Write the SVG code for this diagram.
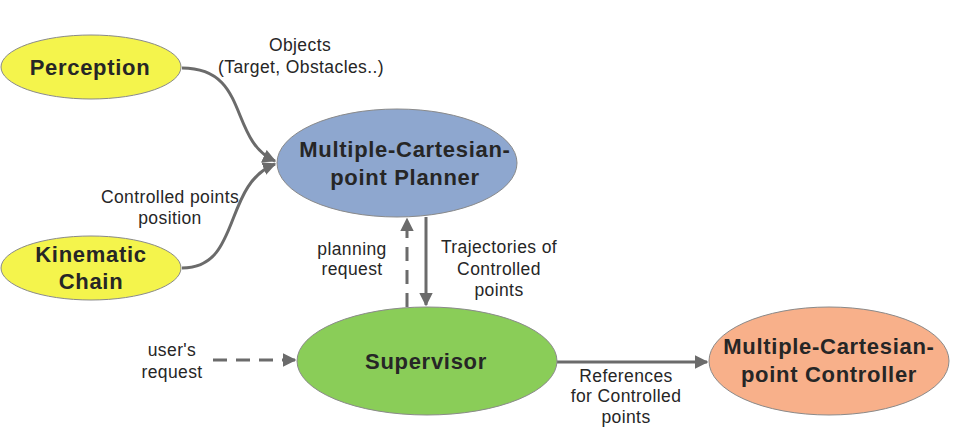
<svg xmlns="http://www.w3.org/2000/svg" width="953" height="440" viewBox="0 0 953 440">
<defs>
<marker id="ah" viewBox="0 0 10 10" refX="9" refY="5" markerWidth="4.5" markerHeight="4.5" orient="auto" markerUnits="strokeWidth">
<path d="M0,0 L10,5 L0,10 z" fill="#6b6b6b"/>
</marker>
<style>
.node{stroke:#8a8a8a;stroke-width:1}
.nl{font-family:"Liberation Sans",Arial,sans-serif;font-weight:bold;font-size:22px;letter-spacing:0.7px;fill:#262626;text-anchor:middle}
.el{font-family:"Liberation Sans",Arial,sans-serif;font-size:17.5px;letter-spacing:0.4px;fill:#262626;text-anchor:middle}
.c{fill:none;stroke:#6b6b6b;stroke-width:3}
.d{stroke-dasharray:14 9}
</style>
</defs>
<rect width="953" height="440" fill="#ffffff"/>
<g id="connectors">
<path class="c" d="M182,68 C250,68 228,140 275,161" marker-end="url(#ah)"/>
<path class="c" d="M182,268 C242,268 222,185 275,164" marker-end="url(#ah)"/>
<path class="c d" d="M407,307 L407,219" marker-end="url(#ah)"/>
<path class="c" d="M426,217 L426,305" marker-end="url(#ah)"/>
<path class="c d" d="M213,360 L295,360" marker-end="url(#ah)"/>
<path class="c" d="M557,362 L707,362" marker-end="url(#ah)"/>
<text class="el" x="300" y="51">Objects</text>
<text class="el" x="301" y="73">(Target, Obstacles..)</text>
<text class="el" x="170" y="203">Controlled points</text>
<text class="el" x="170" y="224">position</text>
<text class="el" x="352" y="255">planning</text>
<text class="el" x="352" y="275">request</text>
<text class="el" x="499" y="253">Trajectories of</text>
<text class="el" x="499" y="275">Controlled</text>
<text class="el" x="499" y="296">points</text>
<text class="el" x="172" y="356">user's</text>
<text class="el" x="172" y="378">request</text>
<text class="el" x="626" y="382">References</text>
<text class="el" x="626" y="402">for Controlled</text>
<text class="el" x="626" y="423">points</text>
</g>
<g id="perception">
<ellipse class="node" cx="91" cy="67" rx="90" ry="32" fill="#f4f44c"/>
<text class="nl" x="90" y="75">Perception</text>
</g>
<g id="kinematic">
<ellipse class="node" cx="91" cy="268" rx="90" ry="32" fill="#f4f44c"/>
<text class="nl" x="91" y="262">Kinematic</text>
<text class="nl" x="91" y="289">Chain</text>
</g>
<g id="planner">
<ellipse class="node" cx="397" cy="163" rx="120" ry="54" fill="#8ea7cf"/>
<text class="nl" x="405" y="157">Multiple-Cartesian-</text>
<text class="nl" x="405" y="185">point Planner</text>
</g>
<g id="supervisor">
<ellipse class="node" cx="427" cy="361" rx="130" ry="54" fill="#8acd58"/>
<text class="nl" x="426" y="369">Supervisor</text>
</g>
<g id="controller">
<ellipse class="node" cx="829" cy="361" rx="120" ry="54" fill="#f8b08a"/>
<text class="nl" x="829" y="354">Multiple-Cartesian-</text>
<text class="nl" x="829" y="382">point Controller</text>
</g>
</svg>
